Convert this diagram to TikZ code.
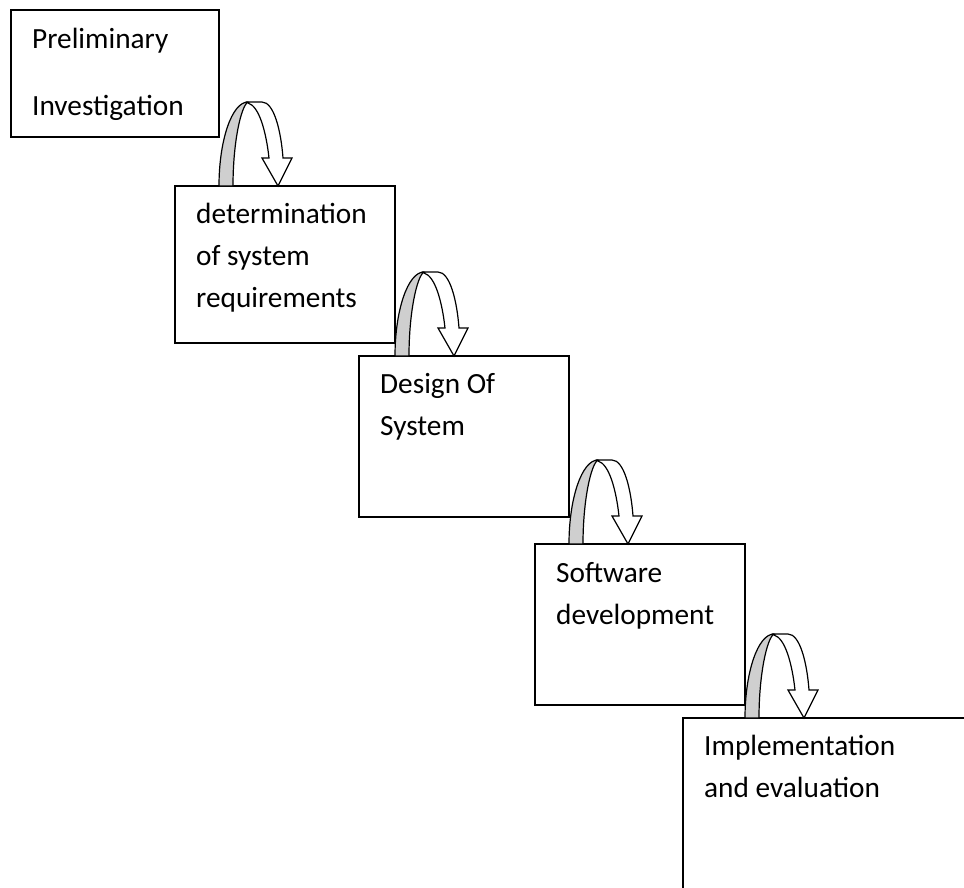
\documentclass[tikz,border=0pt]{standalone}
\usepackage{fontspec}
\setmainfont{Carlito}
\usepackage{tikz}
\usetikzlibrary{calc}

\tikzset{
  stagebox/.style={draw, line width=1.6pt, anchor=north west, inner sep=0pt, outer sep=0pt},
  stagetext/.style={anchor=base west, inner sep=0pt, align=left, font=\fontsize{29.3}{42}\selectfont},
  backband/.style={fill=black!19, draw=black, line width=1.2pt, line join=round},
  frontband/.style={fill=white, draw=black, line width=1.2pt, line join=miter},
  turnarrow/.pic={
    % grey back of the turn
    \filldraw[backband] (0,0) .. controls (0,-46) and (13,-84) .. (29,-84)
      .. controls (22,-80) and (14,-44) .. (14,0) -- cycle;
    % white front with the head
    \filldraw[frontband] (28,-84) -- (43,-84) .. controls (55,-84) and (62,-55) .. (64,-28)
      -- (73,-28) -- (59,0) -- (43,-28) -- (50,-28)
      .. controls (47,-55) and (40,-80) .. (29,-83) -- cycle;
  }
}

\begin{document}
\begin{tikzpicture}[x=1pt, y=-1pt]
  \useasboundingbox (0,0) rectangle (964,888);
  \clip (0,0) rectangle (964,888);

  % stages
  \node[stagebox, minimum width=208pt, minimum height=127pt] (prelim) at (11,10) {};
  \node[stagebox, minimum width=220pt, minimum height=157pt] (sysreq) at (175,186) {};
  \node[stagebox, minimum width=210pt, minimum height=161pt] (design) at (359,356) {};
  \node[stagebox, minimum width=210pt, minimum height=161pt] (softdev) at (535,544) {};
  \node[stagebox, minimum width=320pt, minimum height=220pt] (impl) at (683,718) {};

  % texts (placed by the baseline of their last line)
  \node[stagetext] (prelimtxt) at ($(prelim.north west)+(21,106)$) {Preliminary\\[25pt]Investigation};
  \node[stagetext] (sysreqtxt) at ($(sysreq.north west)+(21,121)$) {determination\\of system\\requirements};
  \node[stagetext] (designtxt) at ($(design.north west)+(21,79)$) {Design Of\\System};
  \node[stagetext] (softdevtxt) at ($(softdev.north west)+(21,80)$) {Software\\development};
  \node[stagetext] (impltxt) at ($(impl.north west)+(21,79)$) {Implementation\\and evaluation};

  % turn arrows between stages
  \foreach \a/\b in {prelim/sysreq, sysreq/design, design/softdev, softdev/impl}
    \pic at (\a.east |- \b.north) {turnarrow};
\end{tikzpicture}
\end{document}
